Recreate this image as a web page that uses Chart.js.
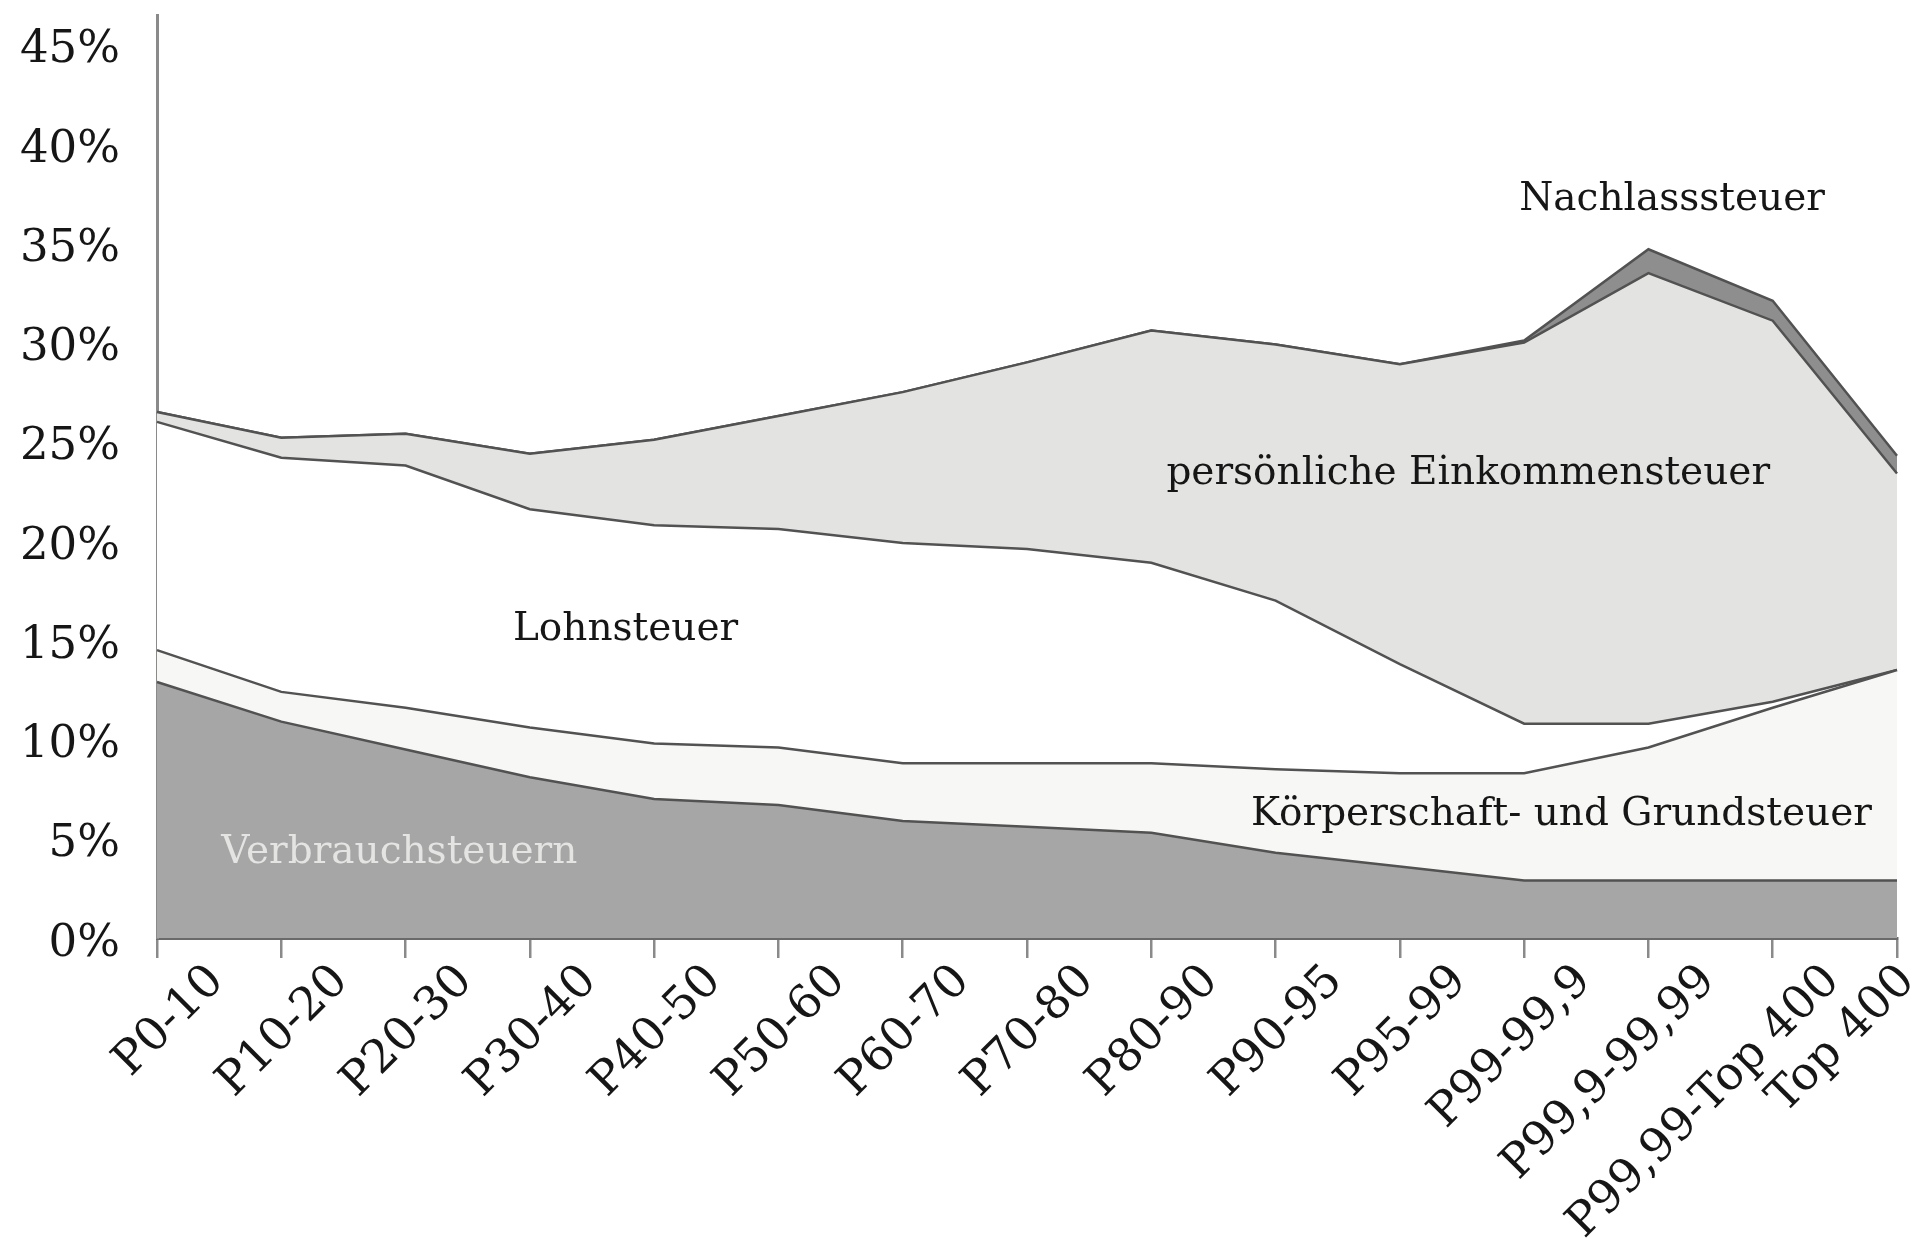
<!DOCTYPE html>
<html>
<head>
<meta charset="utf-8">
<script src="https://cdn.jsdelivr.net/npm/chart.js@4"></script>
<style>
  html, body { margin:0; padding:0; background:#fff; }
</style>
</head>
<body>
<canvas id="chart" width="1930" height="1243"></canvas>
<script>
// income groups (x axis)
const categories = ["P0-10","P10-20","P20-30","P30-40","P40-50","P50-60","P60-70","P70-80",
  "P80-90","P90-95","P95-99","P99-99,9","P99,9-99,99","P99,99-Top 400","Top 400"];

// tax rates in % of income, stacked from bottom to top
const verbrauch     = [12.9,10.9,9.5,8.1,7.0,6.7,5.9,5.6,5.3,4.3,3.6,2.9,2.9,2.9,2.9];
const koerperschaft = [1.6,1.5,2.1,2.5,2.8,2.9,2.9,3.2,3.5,4.2,4.7,5.4,6.7,8.7,10.6];
const lohn          = [11.5,11.8,12.2,11.0,11.0,11.0,11.1,10.8,10.1,8.5,5.5,2.5,1.2,0.3,0.0];
const einkommen     = [0.5,1.0,1.6,2.8,4.3,5.7,7.6,9.4,11.7,12.9,15.1,19.2,22.7,19.2,9.9];
const nachlass      = [0,0,0,0,0,0,0,0,0,0,0,0.1,1.2,1.0,0.9];

const yTickStep = 5;
const yMax = 45;

// text labels inside the chart (x = category index, y = value in %)
const areaLabels = [
  {text:"Nachlasssteuer", x:12.19, y:37.2, color:"#161616"},
  {text:"persönliche Einkommensteuer", x:10.55, y:23.4, color:"#161616"},
  {text:"Lohnsteuer", x:3.77, y:15.5, color:"#161616"},
  {text:"Körperschaft- und Grundsteuer", x:11.3, y:6.2, color:"#161616"},
  {text:"Verbrauchsteuern", x:1.95, y:4.3, color:"rgba(238,238,236,0.85)"}
];

const serif = '"DejaVu Serif", serif';
const lineCol = "#525252";

function area(label, data, bg, fill) {
  return {
    label: label,
    data: data,
    backgroundColor: bg,
    borderColor: lineCol,
    borderWidth: 2.5,
    pointRadius: 0,
    tension: 0,
    fill: fill
  };
}

// area names inside the plot
const areaText = {
  id: "areaText",
  afterDatasetsDraw(chart) {
    const {ctx, scales:{x, y}} = chart;
    ctx.save();
    ctx.font = "39px " + serif;
    ctx.textAlign = "center";
    ctx.textBaseline = "middle";
    areaLabels.forEach(l => {
      ctx.fillStyle = l.color;
      ctx.fillText(l.text, x.getPixelForValue(l.x), y.getPixelForValue(l.y));
    });
    ctx.restore();
  }
};

// rotated category labels, shifted right of their tick like the original
const xLabels = {
  id: "xLabels",
  afterDraw(chart) {
    const {ctx, scales:{x}, chartArea} = chart;
    ctx.save();
    ctx.font = "46px " + serif;
    ctx.fillStyle = "#161616";
    ctx.textAlign = "right";
    ctx.textBaseline = "middle";
    categories.forEach((c, i) => {
      const px = Math.min(x.getPixelForTick(i) + 60, chart.width - 22);
      ctx.save();
      ctx.translate(px, chartArea.bottom + 36);
      ctx.rotate(-Math.PI / 4);
      ctx.fillText(c, 0, 0);
      ctx.restore();
    });
    ctx.restore();
  }
};

new Chart(document.getElementById("chart"), {
  type: "line",
  data: {
    labels: categories,
    datasets: [
      area("Verbrauchsteuern", verbrauch, "#a6a6a6", "origin"),
      area("Körperschaft- und Grundsteuer", koerperschaft, "#f7f7f5", "-1"),
      area("Lohnsteuer", lohn, "#ffffff", "-1"),
      area("persönliche Einkommensteuer", einkommen, "#e3e3e1", "-1"),
      area("Nachlasssteuer", nachlass, "#8e8e8e", "-1")
    ]
  },
  options: {
    responsive: false,
    animation: false,
    layout: { padding: { left: 0, right: 33, top: 15, bottom: 285 } },
    plugins: {
      legend: { display: false },
      tooltip: { enabled: false }
    },
    scales: {
      x: {
        offset: false,
        ticks: { display: false },
        grid: { display: true, drawOnChartArea: false, drawTicks: true, tickLength: 20, color: "#8a8a8a", lineWidth: 2.5 },
        border: { display: true, color: "#6a6a6a", width: 3 }
      },
      y: {
        stacked: true,
        min: 0,
        max: yMax + 1.5,
        afterFit(scale) {
          scale.width = 157;
          scale.paddingTop = 0;
          scale.paddingBottom = 0;
        },
        ticks: {
          stepSize: yTickStep,
          includeBounds: false,
          padding: 37,
          labelOffset: 6,
          color: "#161616",
          font: { family: serif, size: 45 },
          callback: v => (v % yTickStep === 0 && v <= yMax) ? v + "%" : ""
        },
        grid: { display: false, drawTicks: false },
        border: { display: true, color: "#8a8a8a", width: 3 }
      }
    }
  },
  plugins: [areaText, xLabels]
});
</script>
</body>
</html>
